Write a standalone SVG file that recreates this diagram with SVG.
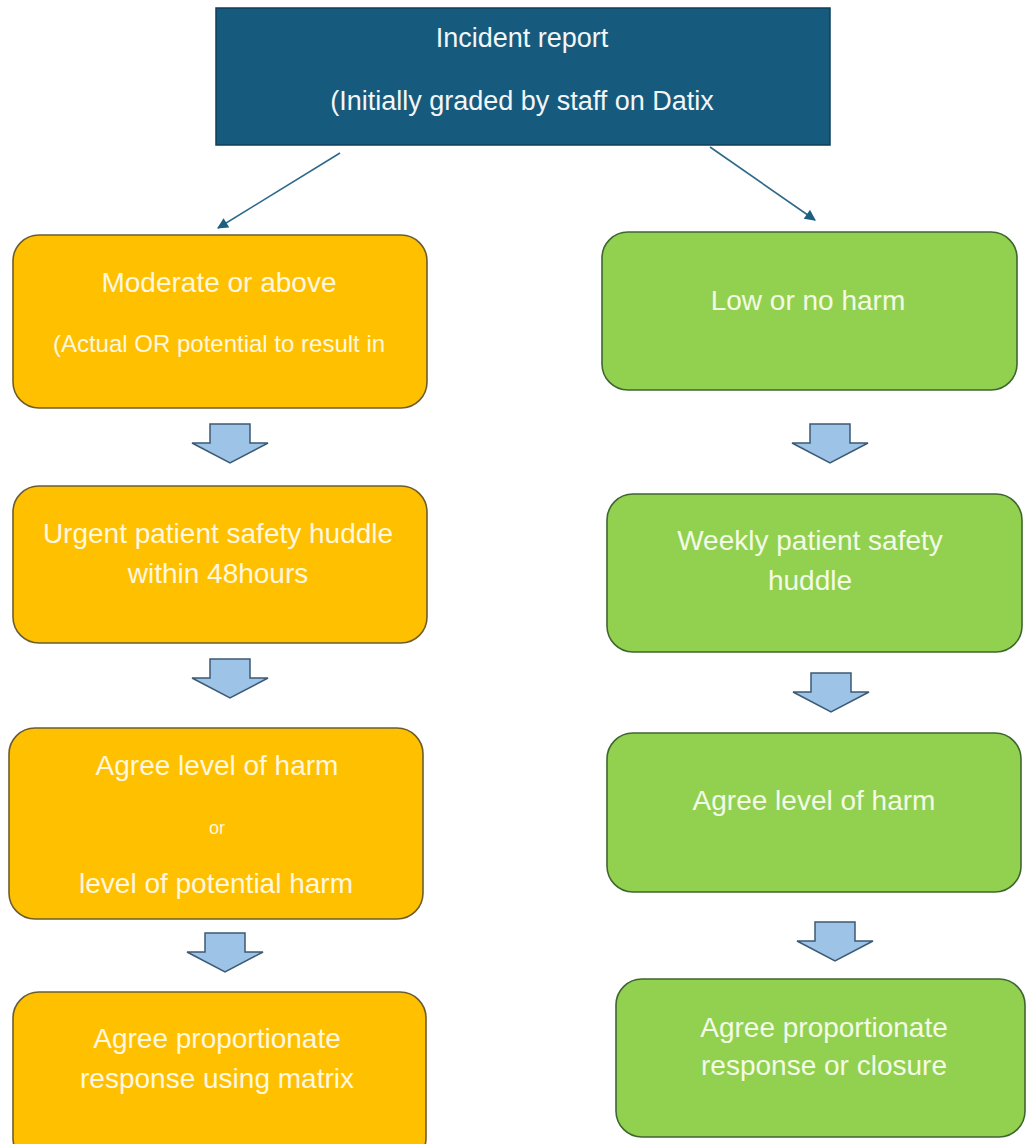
<svg xmlns="http://www.w3.org/2000/svg" xmlns:xlink="http://www.w3.org/1999/xlink" width="1026" height="1144" viewBox="0 0 1026 1144">
  <style>
    text { font-family: "Liberation Sans", Arial, sans-serif; text-anchor: middle; }
    .head { fill: #165b7d; stroke: #0f3f58; stroke-width: 1.5; }
    .head-t { fill: #f2f6f8; font-size: 27px; }
    .amber { fill: #ffc000; stroke: #6b5e2e; stroke-width: 1.6; }
    .amber-t { fill: #fff7e0; font-size: 28px; }
    .lime { fill: #92d050; stroke: #3f6630; stroke-width: 1.6; }
    .lime-t { fill: #f3fbe6; font-size: 28px; }
    .small { font-size: 24px; }
    .tiny { font-size: 18px; }
    .link { stroke: #2d6a8a; stroke-width: 1.6; fill: none; marker-end: url(#tip); }
    .step { fill: #9dc3e6; stroke: #3c5a74; stroke-width: 1.5; stroke-linejoin: miter; }
  </style>
  <defs>
    <marker id="tip" viewBox="0 0 10 10" refX="9" refY="5" markerWidth="12" markerHeight="11" markerUnits="userSpaceOnUse" orient="auto">
      <path d="M0,0 L10,5 L0,10 Z" fill="#1d5f80"/>
    </marker>
    <!-- hollow block arrow pointing down, origin at top-centre -->
    <path id="down" class="step" d="M-20,0 H20 V19 H38 L0,39 L-38,19 H-20 Z"/>
  </defs>

  <rect width="1026" height="1144" fill="#ffffff"/>

  <!-- connectors -->
  <g id="connectors">
    <line class="link" x1="340" y1="153" x2="218" y2="228"/>
    <line class="link" x1="710" y1="147" x2="815" y2="220"/>
    <use xlink:href="#down" x="230" y="424"/>
    <use xlink:href="#down" x="230" y="659"/>
    <use xlink:href="#down" x="225" y="933"/>
    <use xlink:href="#down" x="830" y="424"/>
    <use xlink:href="#down" x="831" y="673"/>
    <use xlink:href="#down" x="835" y="922"/>
  </g>

  <!-- top node -->
  <g id="incident-report">
    <rect class="head" x="216" y="8" width="614" height="137"/>
    <text class="head-t" x="522" y="47">Incident report</text>
    <text class="head-t" x="522" y="110">(Initially graded by staff on Datix</text>
  </g>

  <!-- left branch -->
  <g id="moderate-or-above">
    <rect class="amber" x="13" y="235" width="414" height="173" rx="26"/>
    <text class="amber-t" x="219" y="292">Moderate or above</text>
    <text class="amber-t small" x="219" y="352">(Actual OR potential to result in</text>
  </g>
  <g id="urgent-huddle">
    <rect class="amber" x="13" y="486" width="414" height="157" rx="26"/>
    <text class="amber-t" x="218" y="543">Urgent patient safety huddle</text>
    <text class="amber-t" x="218" y="583">within 48hours</text>
  </g>
  <g id="agree-harm-left">
    <rect class="amber" x="9" y="728" width="414" height="191" rx="26"/>
    <text class="amber-t" x="217" y="775">Agree level of harm</text>
    <text class="amber-t tiny" x="217" y="834">or</text>
    <text class="amber-t" x="216" y="893">level of potential harm</text>
  </g>
  <g id="response-matrix">
    <rect class="amber" x="13" y="992" width="413" height="172" rx="26"/>
    <text class="amber-t" x="217" y="1048">Agree proportionate</text>
    <text class="amber-t" x="217" y="1088">response using matrix</text>
  </g>

  <!-- right branch -->
  <g id="low-or-no-harm">
    <rect class="lime" x="602" y="232" width="415" height="158" rx="26"/>
    <text class="lime-t" x="808" y="310">Low or no harm</text>
  </g>
  <g id="weekly-huddle">
    <rect class="lime" x="607" y="494" width="415" height="158" rx="26"/>
    <text class="lime-t" x="810" y="550">Weekly patient safety</text>
    <text class="lime-t" x="810" y="590">huddle</text>
  </g>
  <g id="agree-harm-right">
    <rect class="lime" x="607" y="733" width="414" height="159" rx="26"/>
    <text class="lime-t" x="814" y="810">Agree level of harm</text>
  </g>
  <g id="response-closure">
    <rect class="lime" x="616" y="979" width="409" height="158" rx="26"/>
    <text class="lime-t" x="824" y="1037">Agree proportionate</text>
    <text class="lime-t" x="824" y="1075">response or closure</text>
  </g>
</svg>
